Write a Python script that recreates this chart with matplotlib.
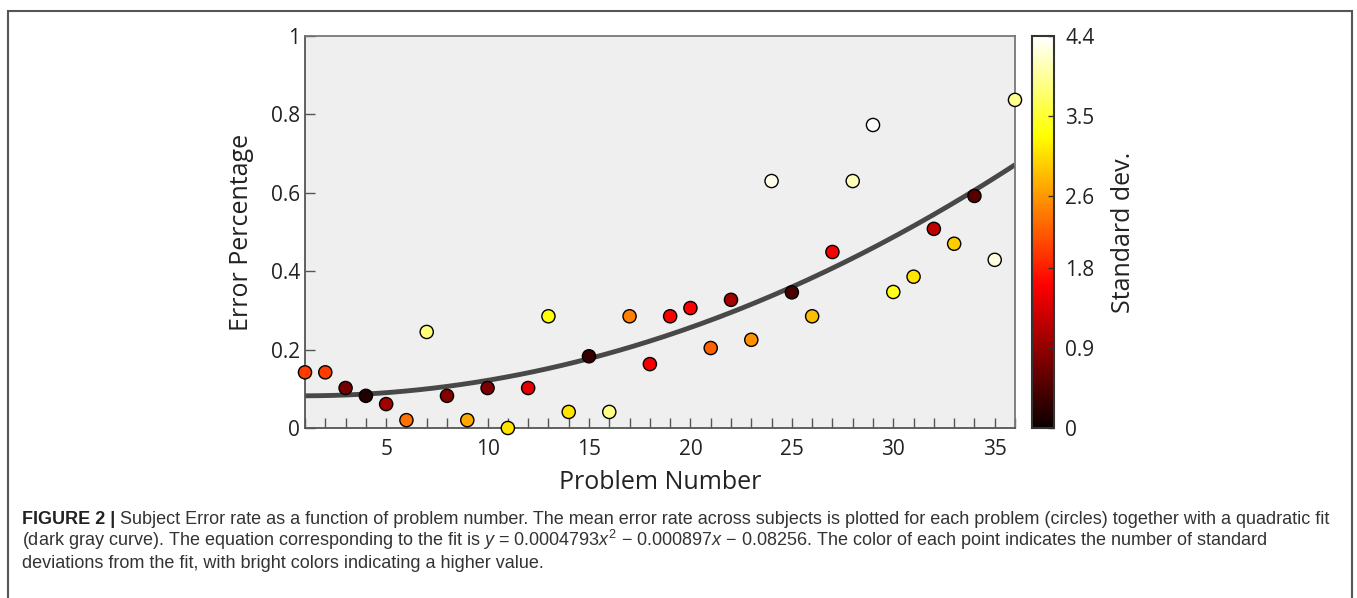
import numpy as np
import matplotlib
matplotlib.use("Agg")
import matplotlib.pyplot as plt
from matplotlib.patches import Rectangle

# mean error rate per problem, and its distance from the fit in std units
problem = np.arange(1, 37)
error_rate = [0.142, 0.142, 0.102, 0.082, 0.061, 0.020, 0.245, 0.082, 0.020, 0.102,
              0.000, 0.102, 0.285, 0.041, 0.183, 0.041, 0.285, 0.163, 0.285, 0.306,
              0.204, 0.327, 0.225, 0.630, 0.346, 0.285, 0.449, 0.630, 0.773, 0.347,
              0.386, 0.508, 0.470, 0.592, 0.429, 0.837]
std_dev = [2.0, 2.0, 0.7, 0.15, 1.0, 2.35, 3.8, 0.8, 2.7, 0.75,
           3.1, 1.45, 3.3, 3.1, 0.3, 3.85, 2.45, 1.55, 1.6, 1.6,
           2.25, 1.0, 2.55, 4.3, 0.4, 2.85, 1.55, 4.1, 4.4, 3.4,
           3.1, 1.2, 2.95, 0.5, 4.25, 3.9]
fit_coef = [0.0004793, -0.000897, 0.08256]
cbar_ticks = [0, 0.9, 1.8, 2.6, 3.5, 4.4]

plt.rcParams['font.family'] = ['Open Sans', 'DejaVu Sans']

fig = plt.figure(figsize=(13.57, 5.98), dpi=100)

# outer frame around figure + caption
fig.patches.append(Rectangle((8 / 1357, -0.02), 1344 / 1357, 1 - 11 / 598 + 0.02,
                             transform=fig.transFigure, fill=False,
                             edgecolor='#555555', linewidth=1.5))

ax = fig.add_axes([305 / 1357, 1 - 428 / 598, 710 / 1357, 392 / 598])
ax.set_facecolor('#efefef')

xs = np.linspace(1, 36, 200)
ax.plot(xs, np.polyval(fit_coef, xs), color='#484848', linewidth=3.5, zorder=2,
        solid_capstyle='butt')
sc = ax.scatter(problem, error_rate, c=std_dev, cmap='hot', vmin=0, vmax=4.4,
                s=90, edgecolors='black', linewidths=1.0, zorder=3, clip_on=False)

ax.set_xlim(1, 36)
ax.set_ylim(0, 1)
ax.set_xticks([5, 10, 15, 20, 25, 30, 35])
ax.set_xticks(problem, minor=True)
ax.set_yticks([0, 0.2, 0.4, 0.6, 0.8, 1])
ax.set_yticklabels(['0', '0.2', '0.4', '0.6', '0.8', '1'])
ax.tick_params(axis='both', which='both', direction='in', length=7, width=1,
               color='#555555', labelsize=15, labelcolor='#222222')
ax.tick_params(axis='x', which='major', pad=8)
for sp in ax.spines.values():
    sp.set_color('#777777')
    sp.set_linewidth(1.3)
ax.spines['left'].set_color('#555555')
ax.spines['bottom'].set_color('#555555')
ax.set_xlabel('Problem Number', fontsize=18, color='#222222', labelpad=7)
ax.set_ylabel('Error Percentage', fontsize=18, color='#222222', labelpad=12)

cax = fig.add_axes([1032 / 1357, 1 - 428 / 598, 22 / 1357, 392 / 598])
cb = fig.colorbar(sc, cax=cax, ticks=cbar_ticks)
cb.ax.set_yticklabels(['0', '0.9', '1.8', '2.6', '3.5', '4.4'])
cb.outline.set_edgecolor('#333333')
cb.outline.set_linewidth(1.5)
cb.ax.tick_params(direction='in', length=4, width=1, color='#333333',
                  labelsize=15, labelcolor='#222222', pad=8)
cb.set_label('Standard dev.', fontsize=18, color='#222222', labelpad=12)

# caption
cap_font = ['Liberation Sans Narrow', 'Liberation Sans', 'DejaVu Sans']
cap_size = 13
plt.rcParams['mathtext.fontset'] = 'custom'
plt.rcParams['mathtext.it'] = 'Liberation Sans:italic'
plt.rcParams['mathtext.rm'] = 'Liberation Sans'
cap_x = 22 / 1357
bold = fig.text(cap_x, 1 - 524 / 598, 'FIGURE 2 | ', family=cap_font, fontsize=cap_size,
                fontweight='bold', color='#222222', va='baseline')
fig.canvas.draw()
bb = bold.get_window_extent()
fig.text(bb.x1 / 1357, 1 - 524 / 598,
         'Subject Error rate as a function of problem number. The mean error rate across '
         'subjects is plotted for each problem (circles) together with a quadratic fit',
         family=cap_font, fontsize=cap_size, color='#333333', va='baseline')
fig.text(cap_x, 1 - 546 / 598,
         r'(dark gray curve). The equation corresponding to the fit is $y$ = 0.0004793$x^2$ '
         r'$-$ 0.000897$x$ $-$ 0.08256. The color of each point indicates the number of standard',
         family=cap_font, fontsize=cap_size, color='#333333', va='baseline')
fig.text(cap_x, 1 - 568 / 598,
         'deviations from the fit, with bright colors indicating a higher value.',
         family=cap_font, fontsize=cap_size, color='#333333', va='baseline')

fig.savefig('out.png', dpi=100)
